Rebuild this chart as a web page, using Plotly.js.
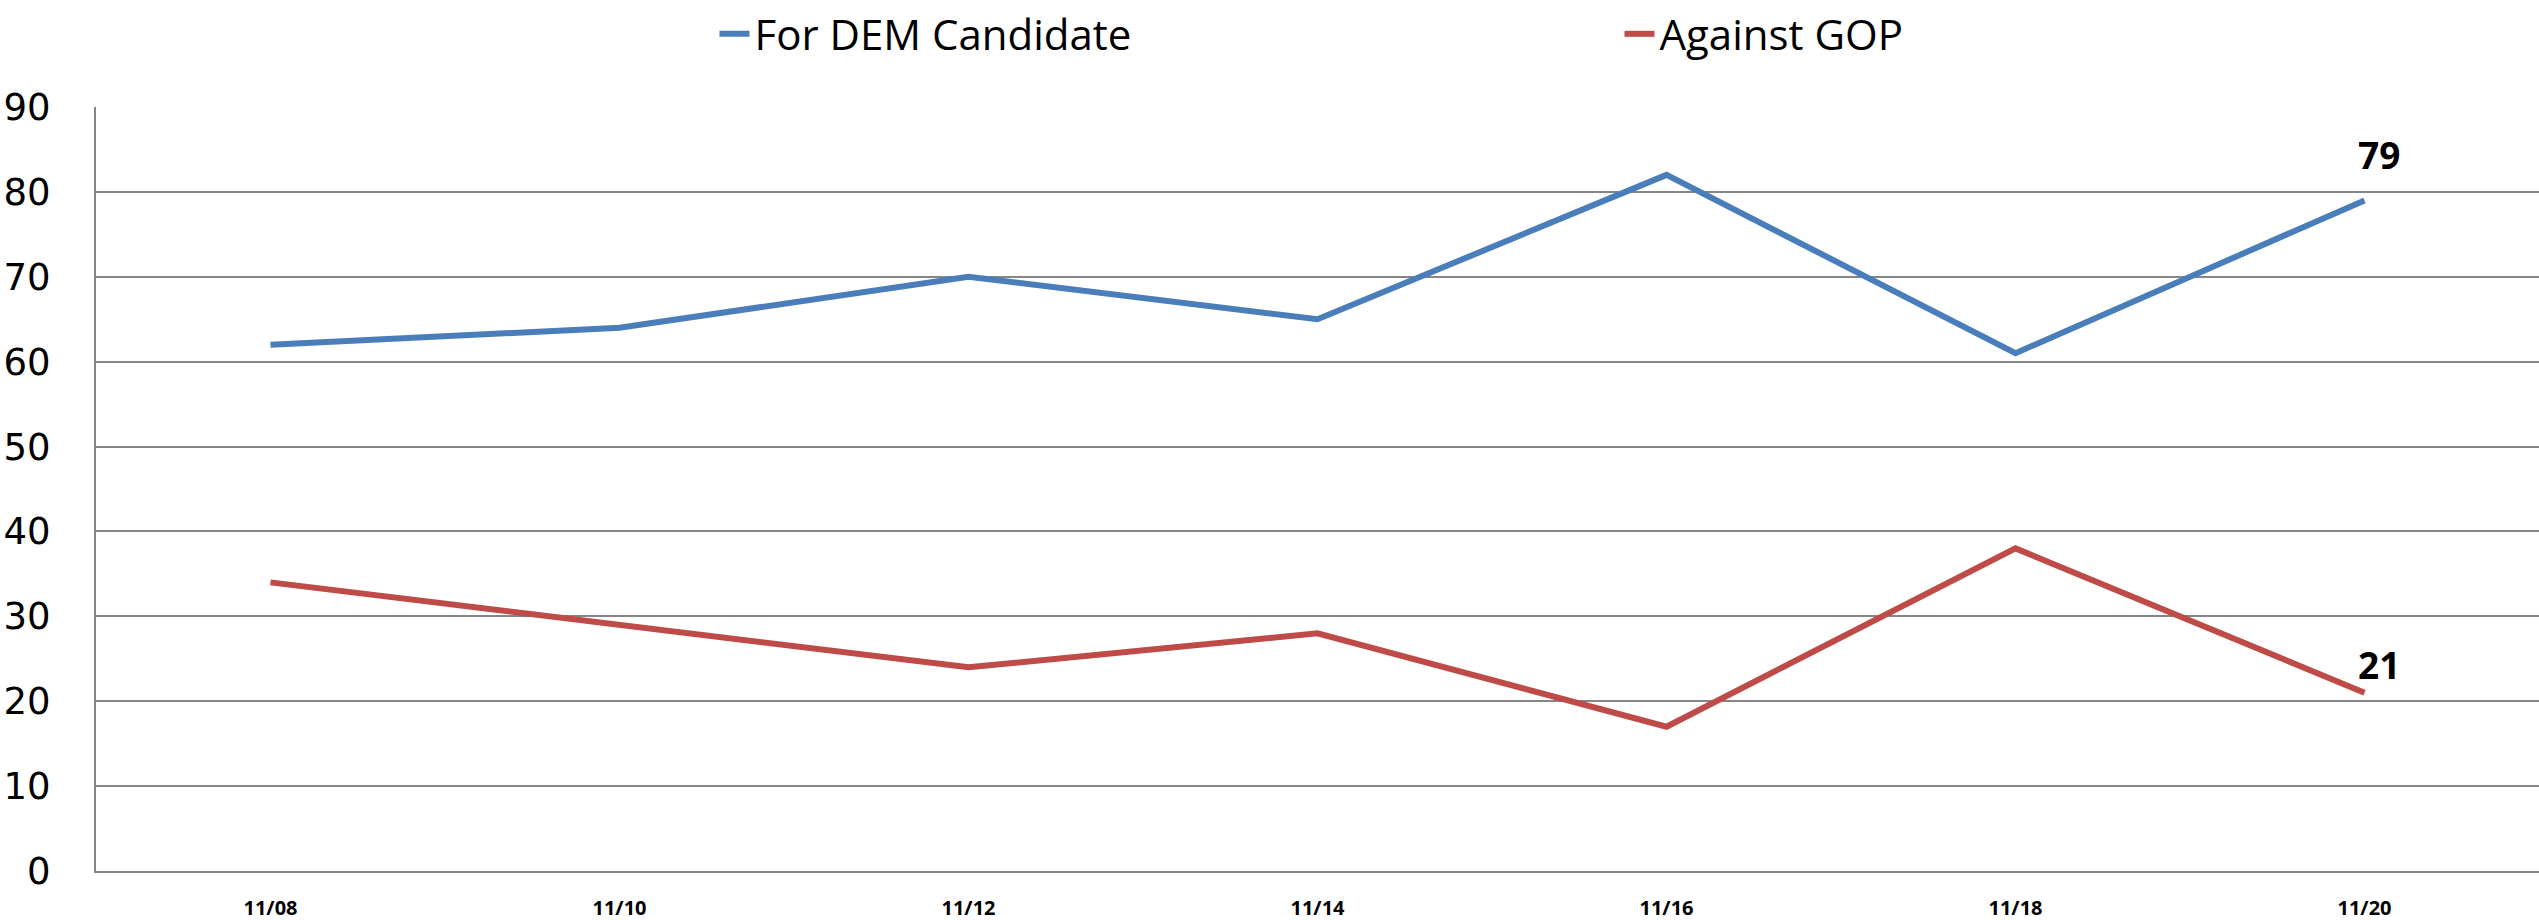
<!DOCTYPE html>
<html>
<head>
<meta charset="utf-8">
<script src="https://cdn.plot.ly/plotly-3.0.1.min.js"></script>
<style>
  html, body { margin: 0; padding: 0; background: #ffffff; }
  #chart { width: 2539px; height: 920px; }
</style>
</head>
<body>
<div id="chart"></div>
<script>
const categories = ["11/08", "11/10", "11/12", "11/14", "11/16", "11/18", "11/20"];
const forDem = [62, 64, 70, 65, 82, 61, 79];
const againstGop = [34, 29, 24, 28, 17, 38, 21];
const seriesNames = ["For DEM Candidate", "Against GOP"];
const yTicks = [0, 10, 20, 30, 40, 50, 60, 70, 80, 90];

const blue = "#4A7EBB";
const red = "#BE4B48";
const font = "Open Sans, Lato, DejaVu Sans, sans-serif";

const traces = [
  {
    x: categories, y: forDem, name: seriesNames[0], type: "scatter", mode: "lines",
    line: { color: blue, width: 6 }, hoverinfo: "x+y"
  },
  {
    x: categories, y: againstGop, name: seriesNames[1], type: "scatter", mode: "lines",
    line: { color: red, width: 6 }, hoverinfo: "x+y"
  }
];

const last = categories.length - 1;
const annotations = [
  {
    x: categories[last], y: forDem[last], xref: "x", yref: "y",
    text: String(forDem[last]), showarrow: false,
    xanchor: "center", yanchor: "bottom", xshift: 14, yshift: 18,
    font: { family: font, size: 37, color: "#000000", weight: "bold" }
  },
  {
    x: categories[last], y: againstGop[last], xref: "x", yref: "y",
    text: String(againstGop[last]), showarrow: false,
    xanchor: "center", yanchor: "bottom", xshift: 14, yshift: 1,
    font: { family: font, size: 37, color: "#000000", weight: "bold" }
  }
];

const layout = {
  width: 2539, height: 920,
  paper_bgcolor: "#ffffff", plot_bgcolor: "#ffffff",
  margin: { l: 96, r: 0, t: 107, b: 49, pad: 0 },
  font: { family: font, color: "#000000" },
  showlegend: true,
  legend: {
    orientation: "h",
    xref: "container", yref: "container",
    x: 0.2814, y: 1.0, xanchor: "left", yanchor: "top",
    entrywidth: 860, entrywidthmode: "pixels",
    font: { family: font, size: 42, color: "#000000" },
    bgcolor: "rgba(0,0,0,0)", itemwidth: 30
  },
  xaxis: {
    type: "category",
    categoryorder: "array", categoryarray: categories,
    range: [-0.5, categories.length - 0.5],
    showgrid: false,
    showline: true, linecolor: "#868686", linewidth: 2,
    ticks: "", ticklabelstandoff: 18,
    tickfont: { family: font, size: 20, color: "#000000", weight: "bold" },
    zeroline: false, fixedrange: true
  },
  yaxis: {
    range: [0, 90],
    tickvals: yTicks, ticktext: yTicks.map(String),
    showgrid: true, gridcolor: "#868686", gridwidth: 2,
    showline: true, linecolor: "#868686", linewidth: 2,
    ticks: "", ticklabelstandoff: 36,
    tickfont: { family: "DejaVu Sans, sans-serif", size: 37, color: "#000000" },
    zeroline: false, fixedrange: true
  },
  annotations: annotations
};

Plotly.newPlot("chart", traces, layout, { displayModeBar: false, staticPlot: true });
</script>
</body>
</html>
